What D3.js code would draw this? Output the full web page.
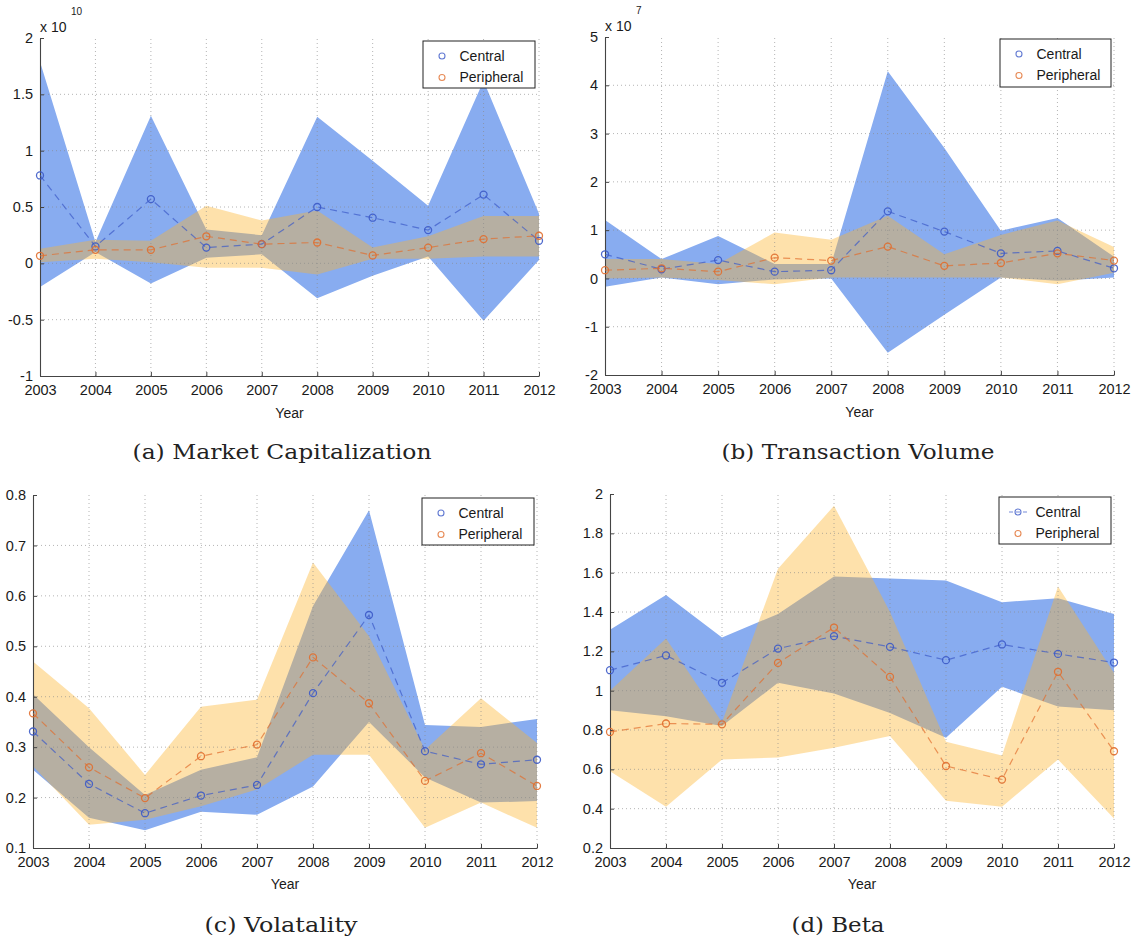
<!DOCTYPE html>
<html>
<head>
<meta charset="utf-8">
<script src="https://cdn.jsdelivr.net/npm/d3@7"></script>
<style>
  html, body { margin: 0; padding: 0; background: #fff; }
  svg { display: block; }
  text { font-family: "Liberation Sans", Arial, sans-serif; fill: #1a1a1a; }
  .cap { font-family: "DejaVu Serif", "Liberation Serif", serif; fill: #222; }
</style>
</head>
<body>
<script>
// ---------------- DATA ----------------
const years = [2003, 2004, 2005, 2006, 2007, 2008, 2009, 2010, 2011, 2012];
const yearLabels = ["2003","2004","2005","2006","2007","2008","2009","2010","2011","2012"];
const seriesNames = ["Central", "Peripheral"];

// (a) Market Capitalization, x 10^10
const capCentralMean  = [0.78, 0.15, 0.57, 0.14, 0.17, 0.50, 0.405, 0.295, 0.61, 0.20];
const capCentralUpper = [1.79, 0.19, 1.31, 0.30, 0.25, 1.30, 0.91, 0.51, 1.62, 0.44];
const capCentralLower = [-0.21, 0.10, -0.18, 0.05, 0.08, -0.31, -0.11, 0.06, -0.51, 0.03];
const capPeriphMean   = [0.067, 0.12, 0.12, 0.24, 0.17, 0.185, 0.07, 0.14, 0.215, 0.245];
const capPeriphUpper  = [0.13, 0.21, 0.20, 0.51, 0.38, 0.47, 0.14, 0.24, 0.42, 0.42];
const capPeriphLower  = [0.01, 0.04, 0.01, -0.04, -0.04, -0.10, 0.04, 0.04, 0.06, 0.06];
const capTicks = [-1, -0.5, 0, 0.5, 1, 1.5, 2];
const capTickLabels = ["-1", "-0.5", "0", "0.5", "1", "1.5", "2"];

// (b) Transaction Volume, x 10^7
const volCentralMean  = [0.50, 0.19, 0.38, 0.14, 0.17, 1.39, 0.97, 0.52, 0.57, 0.21];
const volCentralUpper = [1.21, 0.40, 0.88, 0.30, 0.30, 4.29, 2.70, 0.99, 1.25, 0.45];
const volCentralLower = [-0.17, 0.02, -0.12, -0.02, 0.0, -1.54, -0.75, 0.02, -0.05, 0.02];
const volPeriphMean   = [0.17, 0.21, 0.14, 0.43, 0.37, 0.66, 0.26, 0.32, 0.52, 0.37];
const volPeriphUpper  = [0.40, 0.40, 0.30, 0.95, 0.80, 1.30, 0.50, 0.90, 1.20, 0.65];
const volPeriphLower  = [0.0, 0.02, -0.03, -0.12, 0.02, 0.02, 0.02, 0.02, -0.12, 0.12];
const volTicks = [-2, -1, 0, 1, 2, 3, 4, 5];
const volTickLabels = ["-2", "-1", "0", "1", "2", "3", "4", "5"];

// (c) Volatality
const volaCentralMean  = [0.331, 0.227, 0.169, 0.204, 0.225, 0.407, 0.562, 0.292, 0.266, 0.275];
const volaCentralUpper = [0.405, 0.30, 0.205, 0.255, 0.28, 0.58, 0.77, 0.344, 0.34, 0.356];
const volaCentralLower = [0.255, 0.16, 0.135, 0.172, 0.166, 0.222, 0.35, 0.24, 0.19, 0.193];
const volaPeriphMean   = [0.367, 0.26, 0.199, 0.282, 0.305, 0.478, 0.387, 0.233, 0.288, 0.223];
const volaPeriphUpper  = [0.47, 0.377, 0.245, 0.38, 0.394, 0.666, 0.52, 0.295, 0.397, 0.308];
const volaPeriphLower  = [0.262, 0.146, 0.156, 0.183, 0.216, 0.285, 0.285, 0.14, 0.19, 0.14];
const volaTicks = [0.1, 0.2, 0.3, 0.4, 0.5, 0.6, 0.7, 0.8];
const volaTickLabels = ["0.1", "0.2", "0.3", "0.4", "0.5", "0.6", "0.7", "0.8"];

// (d) Beta
const betaCentralMean  = [1.104, 1.179, 1.04, 1.214, 1.277, 1.223, 1.155, 1.235, 1.187, 1.143];
const betaCentralUpper = [1.31, 1.486, 1.27, 1.39, 1.58, 1.57, 1.56, 1.45, 1.47, 1.39];
const betaCentralLower = [0.90, 0.87, 0.82, 1.04, 0.985, 0.886, 0.76, 1.02, 0.92, 0.90];
const betaPeriphMean   = [0.79, 0.833, 0.829, 1.141, 1.321, 1.07, 0.617, 0.548, 1.096, 0.692];
const betaPeriphUpper  = [1.0, 1.265, 0.84, 1.62, 1.94, 1.40, 0.74, 0.67, 1.53, 1.09];
const betaPeriphLower  = [0.59, 0.41, 0.65, 0.66, 0.71, 0.77, 0.44, 0.41, 0.65, 0.35];
const betaTicks = [0.2, 0.4, 0.6, 0.8, 1, 1.2, 1.4, 1.6, 1.8, 2];
const betaTickLabels = ["0.2", "0.4", "0.6", "0.8", "1", "1.2", "1.4", "1.6", "1.8", "2"];

const captions = ["(a) Market Capitalization", "(b) Transaction Volume", "(c) Volatality", "(d) Beta"];
const exponents = ["10", "7", null, null];
const xLabel = "Year";

// ---------------- LAYOUT / STYLE ----------------
const W = 1135, H = 941;
const blueFill = "rgb(136,172,240)";
const orangeFill = "rgb(252,180,45)";
const orangeOpacity = 0.4;
const blueLine = "rgb(60,90,200)";
const orangeLine = "rgb(225,110,45)";

const panels = [
  { box: {l: 40,  r: 539,  t: 38,  b: 376}, dom: [-1, 2], ticks: capTicks, tl: capTickLabels,
    c: [capCentralMean, capCentralUpper, capCentralLower], p: [capPeriphMean, capPeriphUpper, capPeriphLower],
    leg: {x: 423, y: 41, w: 112, h: 47}, cap: {x: 282, y: 459, w: 299}, exp: exponents[0], legLine: false },
  { box: {l: 605, r: 1114, t: 37,  b: 375}, dom: [-2, 5], ticks: volTicks, tl: volTickLabels,
    c: [volCentralMean, volCentralUpper, volCentralLower], p: [volPeriphMean, volPeriphUpper, volPeriphLower],
    leg: {x: 1000, y: 39, w: 111, h: 48}, cap: {x: 858, y: 459, w: 273}, exp: exponents[1], legLine: false },
  { box: {l: 33,  r: 537,  t: 495, b: 848}, dom: [0.1, 0.8], ticks: volaTicks, tl: volaTickLabels,
    c: [volaCentralMean, volaCentralUpper, volaCentralLower], p: [volaPeriphMean, volaPeriphUpper, volaPeriphLower],
    leg: {x: 422, y: 498, w: 112, h: 47}, cap: {x: 281, y: 932, w: 153}, exp: exponents[2], legLine: false },
  { box: {l: 610, r: 1114, t: 494, b: 848}, dom: [0.2, 2], ticks: betaTicks, tl: betaTickLabels,
    c: [betaCentralMean, betaCentralUpper, betaCentralLower], p: [betaPeriphMean, betaPeriphUpper, betaPeriphLower],
    leg: {x: 999, y: 497, w: 112, h: 47}, cap: {x: 838, y: 932, w: 93}, exp: exponents[3], legLine: true }
];

const svg = d3.select("body").append("svg").attr("width", W).attr("height", H);
svg.append("rect").attr("width", W).attr("height", H).attr("fill", "#fff");

panels.forEach((P, pi) => {
  const g = svg.append("g");
  const x = d3.scaleLinear().domain([years[0], years[years.length - 1]]).range([P.box.l, P.box.r]);
  const y = d3.scaleLinear().domain(P.dom).range([P.box.b, P.box.t]);

  const band = (upper, lower) => d3.area()
    .x((d, i) => x(years[i])).y0((d, i) => y(lower[i])).y1((d, i) => y(upper[i]))(years);

  // bands
  g.append("path").attr("d", band(P.c[1], P.c[2])).attr("fill", blueFill);
  g.append("path").attr("d", band(P.p[1], P.p[2])).attr("fill", orangeFill).attr("fill-opacity", orangeOpacity);

  // grid
  const grid = g.append("g").attr("stroke", "#8a8a8a").attr("stroke-width", 0.9)
    .attr("stroke-dasharray", "1,3").attr("opacity", 0.7);
  years.slice(1).forEach(yr => {
    grid.append("line").attr("x1", x(yr)).attr("x2", x(yr)).attr("y1", P.box.b).attr("y2", P.box.t);
  });
  P.ticks.slice(1, -1).forEach(v => {
    grid.append("line").attr("x1", P.box.l).attr("x2", P.box.r).attr("y1", y(v)).attr("y2", y(v));
  });

  // axes
  const xAxis = d3.axisBottom(x).tickValues(years).tickFormat((d, i) => yearLabels[i]).tickSizeInner(-4).tickSizeOuter(0).tickPadding(9);
  const yAxis = d3.axisLeft(y).tickValues(P.ticks).tickFormat((d, i) => P.tl[i]).tickSizeInner(-4).tickSizeOuter(0).tickPadding(7);
  const gx = g.append("g").attr("transform", `translate(0,${P.box.b})`).call(xAxis);
  const gy = g.append("g").attr("transform", `translate(${P.box.l},0)`).call(yAxis);
  [gx, gy].forEach(a => {
    a.select(".domain").attr("stroke", "#444").attr("stroke-width", 1.1);
    a.selectAll(".tick line").attr("stroke", "#444");
    a.selectAll("text").attr("font-size", 14.5).attr("fill", "#1a1a1a")
      .attr("font-family", "'Liberation Sans', Arial, sans-serif");
  });
  gx.selectAll("text").attr("dy", "0.71em");
  g.append("text").attr("x", (P.box.l + P.box.r) / 2).attr("y", P.box.b + (pi < 2 ? 42 : 41))
    .attr("text-anchor", "middle").attr("font-size", 14).text(xLabel);

  // exponent
  if (P.exp) {
    g.append("text").attr("x", P.box.l).attr("y", P.box.t - 6).attr("font-size", 14).text("x 10");
    g.append("text").attr("x", P.box.l + 31).attr("y", P.box.t - 23).attr("font-size", 10).text(P.exp);
  }

  // mean lines and markers
  const line = d3.line().x((d, i) => x(years[i])).y(d => y(d));
  [[P.c[0], blueLine], [P.p[0], orangeLine]].forEach(([m, col]) => {
    g.append("path").attr("d", line(m)).attr("fill", "none").attr("stroke", col)
      .attr("stroke-width", 1.2).attr("stroke-dasharray", "7,5").attr("opacity", 0.7);
    g.selectAll(null).data(m).enter().append("circle")
      .attr("cx", (d, i) => x(years[i])).attr("cy", d => y(d)).attr("r", 3.5)
      .attr("fill", "none").attr("stroke", col).attr("stroke-width", 1.3).attr("opacity", 0.9);
  });

  // legend
  const L = P.leg;
  const lg = g.append("g");
  lg.append("rect").attr("x", L.x).attr("y", L.y).attr("width", L.w).attr("height", L.h)
    .attr("fill", "#fff").attr("stroke", "#222").attr("stroke-width", 1);
  const rowY = [L.y + 15, L.y + 36.5];
  const cols = [blueLine, orangeLine];
  seriesNames.forEach((nm, k) => {
    if (P.legLine && k === 0) {
      lg.append("line").attr("x1", L.x + 10).attr("x2", L.x + 28).attr("y1", rowY[k]).attr("y2", rowY[k])
        .attr("stroke", cols[k]).attr("stroke-width", 1).attr("stroke-dasharray", "4,3").attr("opacity", 0.7);
    }
    lg.append("circle").attr("cx", L.x + 19).attr("cy", rowY[k]).attr("r", 3)
      .attr("fill", "none").attr("stroke", cols[k]).attr("stroke-width", 1.1).attr("opacity", 0.8);
    lg.append("text").attr("x", L.x + 36.5).attr("y", rowY[k]).attr("dy", "0.35em")
      .attr("font-size", 14).text(nm);
  });

  // caption
  svg.append("text").attr("class", "cap").attr("x", P.cap.x).attr("y", P.cap.y)
    .attr("text-anchor", "middle").attr("font-size", 20)
    .attr("textLength", P.cap.w).attr("lengthAdjust", "spacingAndGlyphs").text(captions[pi]);
});
</script>
</body>
</html>
